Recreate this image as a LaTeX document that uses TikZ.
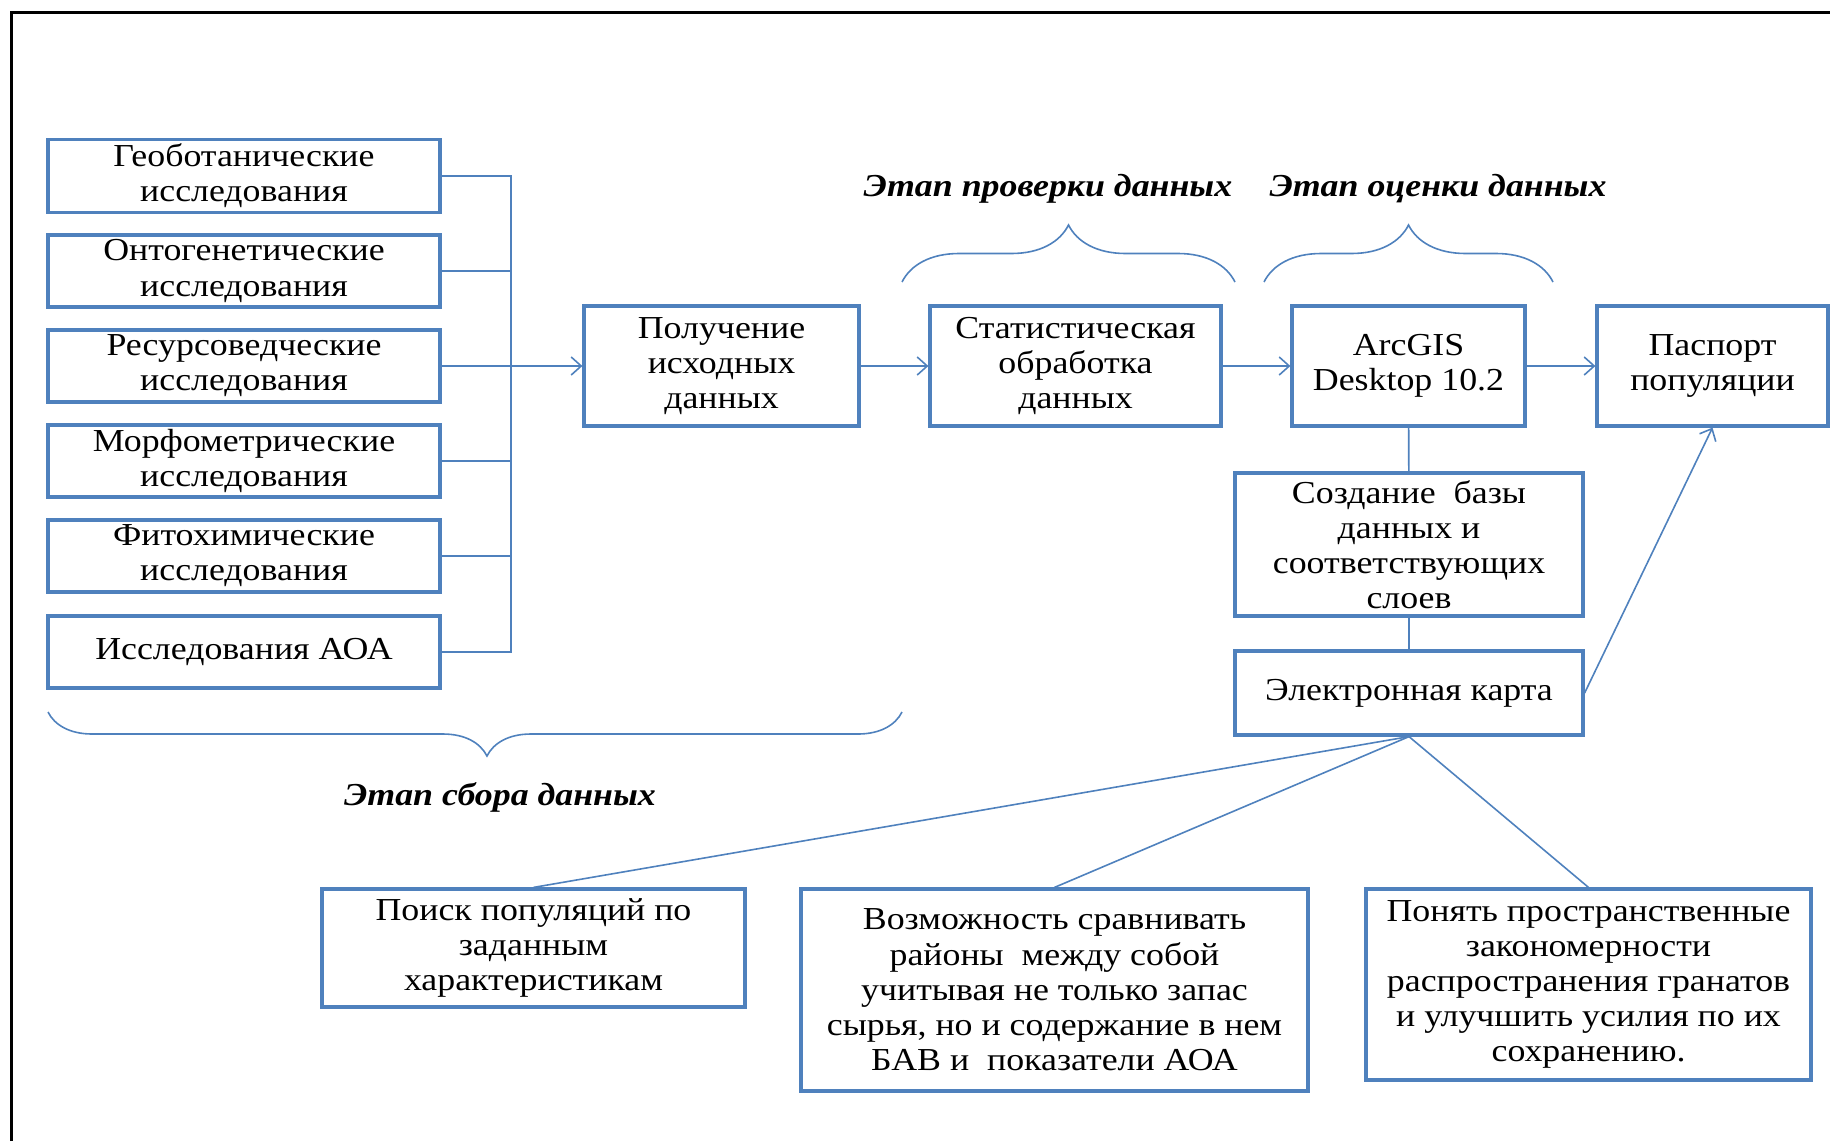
\documentclass[tikz,border=0pt]{standalone}
\usepackage{fontspec}
\setmainfont{Liberation Serif}[FakeStretch=1.12]
\usepackage{tikz}
\usetikzlibrary{arrows.meta}
\usetikzlibrary{decorations.pathreplacing}
\definecolor{boxblue}{RGB}{79,129,189}
\begin{document}
\begin{tikzpicture}[x=0.5pt,y=-0.5pt]
\tikzstyle{block}=[draw=boxblue,line width=1.6pt,fill=white,align=center,inner sep=2pt,font=\fontsize{16}{17.6}\selectfont]
\tikzstyle{left block}=[block,minimum width=196pt,minimum height=36pt]
\tikzstyle{link}=[draw=boxblue,line width=0.8pt]
\tikzstyle{arrow}=[link,-{Straight Barb[length=5pt,width=9pt]}]
\tikzstyle{stage}=[font=\fontsize{16}{17.6}\selectfont\bfseries\itshape]
\tikzstyle{curly}=[link,decorate]
\useasboundingbox (0,0) rectangle (1830,1141);
\draw[black,line width=1.5pt] (11,1141) -- (11,12) -- (1830,12);
\node[left block] (geo) at (244,176) {Геоботанические\\исследования};
\node[left block] (onto) at (244,271) {Онтогенетические\\исследования};
\node[left block] (res) at (244,366) {Ресурсоведческие\\исследования};
\node[left block] (morph) at (244,461) {Морфометрические\\исследования};
\node[left block] (fito) at (244,556) {Фитохимические\\исследования};
\node[left block] (aoa) at (244,652) {Исследования АОА};
\coordinate (bus) at (511,366);
\node[block,minimum width=137.5pt,minimum height=60pt] (pol) at (721.5,366) {Получение\\исходных\\данных};
\node[block,minimum width=145.5pt,minimum height=60pt] (stat) at (1075.5,366) {Статистическая\\обработка\\данных};
\node[block,minimum width=116.5pt,minimum height=60pt] (arc) at (1408.5,366) {ArcGIS\\Desktop 10.2};
\node[block,minimum width=115.5pt,minimum height=60pt] (pass) at (1712.5,366) {Паспорт\\популяции};
\node[block,minimum width=174pt,minimum height=71.5pt] (baza) at (1409,544.5) {Создание~ базы\\данных и\\соответствующих\\слоев};
\node[block,minimum width=174pt,minimum height=42pt] (karta) at (1409,693) {Электронная карта};
\node[block,minimum width=211.5pt,minimum height=59pt] (poisk) at (533.5,948) {Поиск популяций по\\заданным\\характеристикам};
\node[block,minimum width=253.5pt,minimum height=101pt] (vozm) at (1054.5,990) {Возможность сравнивать\\районы~ между собой\\учитывая не только запас\\сырья, но и содержание в нем\\БАВ и~ показатели АОА};
\node[block,minimum width=222.5pt,minimum height=95.5pt] (ponyat) at (1588.5,984.5) {Понять пространственные\\закономерности\\распространения гранатов\\и улучшить усилия по их\\сохранению.};
\foreach \n in {geo,onto,res,morph,fito,aoa}
  \draw[link] (\n.east) -| (bus);
\draw[arrow] (bus) -- (pol);
\draw[arrow] (pol) -- (stat);
\draw[arrow] (stat) -- (arc);
\draw[arrow] (arc) -- (pass);
\draw[link] (arc) -- (baza);
\draw[link] (baza) -- (karta);
\draw[arrow] (karta.east) -- (pass.south);
\draw[link] (karta.south) -- (poisk.north);
\draw[link] (karta.south) -- (vozm.north);
\draw[link] (karta.south) -- (ponyat.north);
\draw[curly,decoration={brace,amplitude=28.5pt}] (902,282) -- (1235,282);
\draw[curly,decoration={brace,amplitude=28.5pt}] (1264,282) -- (1553,282);
\draw[curly,decoration={brace,amplitude=22pt,aspect=0.486}] (902,712) -- (48,712);
\node[stage] (check) at (1048,189) {Этап проверки данных};
\node[stage] (eval) at (1438,189) {Этап оценки данных};
\node[stage] (collect) at (500,797) {Этап сбора данных};
\end{tikzpicture}
\end{document}
